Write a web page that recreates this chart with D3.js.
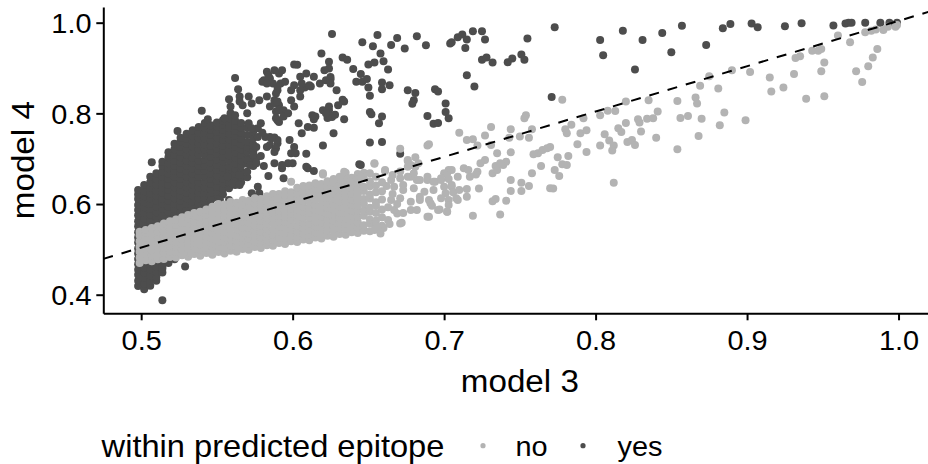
<!DOCTYPE html>
<html>
<head>
<meta charset="utf-8">
<script src="https://cdn.jsdelivr.net/npm/d3@7"></script>
<style>
  body { margin: 0; background: #fff; }
  text { font-family: "Liberation Sans", Arial, Helvetica, sans-serif; }
</style>
</head>
<body>
<div id="chart"></div>
<script>
const width = 928;
const height = 464;

const xDomain = [0.475, 1.025];
const yDomain = [0.359, 1.0346];
const xTicks = [0.5, 0.6, 0.7, 0.8, 0.9, 1.0];
const yTicks = [0.4, 0.6, 0.8, 1.0];
const xTitle = "model 3";
const yTitle = "model 4";
const legendTitle = "within predicted epitope";
const groups = ["no", "yes"];
const groupColors = ["#b3b3b3", "#4d4d4d"];
const refLine = { slope: 1, intercept: 0.004 };

// dense part of the "yes" cloud, read column by column: [model 3, [model 4 values]]
const yesDense = [
  [0.498, [0.419, 0.431, 0.444, 0.455, 0.467, 0.479, 0.491, 0.502, 0.515, 0.526, 0.538, 0.551, 0.562, 0.575, 0.587, 0.598, 0.611, 0.621, 0.631]],
  [0.502, [0.412, 0.425, 0.437, 0.449, 0.460, 0.472, 0.485, 0.497, 0.509, 0.520, 0.533, 0.545, 0.556, 0.568, 0.581, 0.593, 0.604, 0.617, 0.628, 0.642]],
  [0.506, [0.420, 0.431, 0.443, 0.456, 0.468, 0.480, 0.491, 0.504, 0.516, 0.528, 0.541, 0.552, 0.564, 0.577, 0.589, 0.600, 0.613, 0.624, 0.636, 0.648, 0.660]],
  [0.510, [0.431, 0.439, 0.450, 0.462, 0.475, 0.486, 0.498, 0.511, 0.522, 0.534, 0.547, 0.558, 0.571, 0.582, 0.594, 0.607, 0.619, 0.630, 0.643, 0.655, 0.668]],
  [0.514, [0.449, 0.457, 0.469, 0.481, 0.492, 0.505, 0.516, 0.529, 0.540, 0.553, 0.565, 0.576, 0.589, 0.601, 0.612, 0.625, 0.637, 0.648, 0.661, 0.672, 0.684, 0.693]],
  [0.518, [0.470, 0.486, 0.510, 0.534, 0.546, 0.559, 0.570, 0.583, 0.594, 0.607, 0.618, 0.631, 0.642, 0.655, 0.667, 0.679, 0.690, 0.703, 0.714]],
  [0.522, [0.478, 0.498, 0.522, 0.552, 0.565, 0.576, 0.589, 0.600, 0.613, 0.625, 0.637, 0.648, 0.661, 0.673, 0.685, 0.696, 0.709, 0.721, 0.733]],
  [0.526, [0.500, 0.530, 0.560, 0.571, 0.582, 0.595, 0.607, 0.619, 0.630, 0.643, 0.655, 0.667, 0.678, 0.691, 0.703, 0.715, 0.726, 0.738, 0.746]],
  [0.530, [0.520, 0.548, 0.565, 0.577, 0.589, 0.600, 0.613, 0.625, 0.637, 0.648, 0.661, 0.673, 0.685, 0.696, 0.709, 0.721, 0.733, 0.744, 0.755]],
  [0.534, [0.540, 0.558, 0.571, 0.583, 0.595, 0.606, 0.619, 0.631, 0.643, 0.654, 0.667, 0.679, 0.691, 0.702, 0.715, 0.727, 0.739, 0.750, 0.763]],
  [0.538, [0.556, 0.565, 0.577, 0.589, 0.600, 0.613, 0.625, 0.637, 0.648, 0.661, 0.673, 0.685, 0.696, 0.709, 0.721, 0.733, 0.745, 0.757, 0.770]],
  [0.542, [0.569, 0.584, 0.594, 0.605, 0.614, 0.625, 0.637, 0.649, 0.661, 0.673, 0.684, 0.697, 0.709, 0.721, 0.732, 0.745, 0.757, 0.768, 0.779]],
  [0.546, [0.597, 0.609, 0.621, 0.632, 0.645, 0.656, 0.668, 0.681, 0.692, 0.704, 0.717, 0.728, 0.740, 0.752, 0.764, 0.774]],
  [0.550, [0.615, 0.627, 0.638, 0.651, 0.663, 0.675, 0.686, 0.699, 0.711, 0.723, 0.734, 0.747, 0.759, 0.771, 0.780]],
  [0.554, [0.621, 0.633, 0.645, 0.657, 0.669, 0.681, 0.693, 0.705, 0.717, 0.729, 0.741, 0.753, 0.765, 0.776, 0.785]],
  [0.558, [0.635, 0.647, 0.660, 0.671, 0.683, 0.696, 0.707, 0.719, 0.732, 0.743, 0.755, 0.768, 0.779, 0.789]],
  [0.562, [0.642, 0.654, 0.666, 0.678, 0.690, 0.702, 0.714, 0.726, 0.738, 0.750, 0.762, 0.773, 0.784]],
  [0.566, [0.648, 0.660, 0.672, 0.685, 0.696, 0.708, 0.721, 0.732, 0.744, 0.757, 0.768, 0.779]],
  [0.570, [0.659, 0.671, 0.689, 0.701, 0.716, 0.725, 0.737, 0.752, 0.768]],
  [0.574, [0.684, 0.697, 0.718, 0.731, 0.745, 0.760]]
];

// scattered "yes" points
const yesSparse = [
  [0.818, 0.982], [0.831, 0.962], [0.844, 0.977], [0.857, 0.993], [0.850, 0.935], [0.873, 0.951], [0.826, 0.897],
  [0.884, 0.988], [0.889, 0.997], [0.903, 0.998], [0.907, 0.990], [0.925, 0.992], [0.936, 0.999], [0.957, 0.994],
  [0.965, 0.998], [0.967, 1.000], [0.969, 1.000], [0.978, 1.000], [0.988, 1.000], [0.994, 1.000], [0.999, 1.000],
  [0.803, 0.962], [0.805, 0.928],
  [0.626, 0.975], [0.656, 0.973], [0.646, 0.957], [0.653, 0.948], [0.669, 0.966], [0.665, 0.951], [0.682, 0.970],
  [0.674, 0.943], [0.688, 0.950], [0.704, 0.954], [0.705, 0.957], [0.709, 0.968], [0.712, 0.974], [0.715, 0.963],
  [0.714, 0.944], [0.719, 0.981], [0.725, 0.981], [0.727, 0.963], [0.725, 0.918], [0.728, 0.923], [0.732, 0.912],
  [0.742, 0.913], [0.745, 0.921], [0.751, 0.930], [0.753, 0.918], [0.755, 0.965], [0.773, 0.990], [0.771, 0.836],
  [0.715, 0.884], [0.720, 0.859],
  [0.619, 0.932], [0.624, 0.914], [0.624, 0.899], [0.625, 0.880], [0.633, 0.923], [0.636, 0.918], [0.640, 0.898],
  [0.645, 0.887], [0.642, 0.870], [0.646, 0.870], [0.649, 0.876], [0.650, 0.908], [0.654, 0.912], [0.658, 0.932],
  [0.660, 0.915], [0.663, 0.897], [0.659, 0.868], [0.659, 0.853], [0.664, 0.862], [0.650, 0.857], [0.651, 0.839],
  [0.629, 0.851], [0.633, 0.830], [0.634, 0.826], [0.630, 0.818], [0.624, 0.807], [0.626, 0.792], [0.623, 0.790],
  [0.628, 0.797], [0.634, 0.787], [0.615, 0.793], [0.614, 0.787], [0.610, 0.770], [0.614, 0.768], [0.606, 0.756],
  [0.605, 0.837], [0.627, 0.756], [0.620, 0.729], [0.609, 0.711], [0.610, 0.679], [0.614, 0.673], [0.645, 0.686],
  [0.651, 0.736], [0.659, 0.737], [0.651, 0.803], [0.652, 0.798], [0.659, 0.793], [0.657, 0.778], [0.676, 0.851],
  [0.681, 0.845], [0.680, 0.829], [0.679, 0.821], [0.694, 0.853], [0.696, 0.848], [0.701, 0.822], [0.701, 0.803],
  [0.703, 0.789], [0.689, 0.794], [0.693, 0.777], [0.696, 0.779], [0.671, 0.711], [0.644, 0.688],
  [0.605, 0.881], [0.609, 0.888], [0.614, 0.881], [0.612, 0.859], [0.608, 0.857], [0.618, 0.866], [0.622, 0.873],
  [0.625, 0.875],
  [0.562, 0.878], [0.564, 0.853], [0.565, 0.837], [0.558, 0.831], [0.559, 0.815], [0.567, 0.818], [0.571, 0.837],
  [0.573, 0.822], [0.580, 0.870], [0.583, 0.892], [0.585, 0.877], [0.588, 0.895], [0.591, 0.888], [0.593, 0.895],
  [0.592, 0.866], [0.590, 0.851], [0.595, 0.870], [0.601, 0.908], [0.603, 0.907], [0.606, 0.866], [0.601, 0.862],
  [0.599, 0.851], [0.605, 0.851], [0.611, 0.862], [0.621, 0.895], [0.625, 0.866], [0.578, 0.829], [0.583, 0.837],
  [0.588, 0.829], [0.585, 0.815], [0.591, 0.818], [0.594, 0.807], [0.599, 0.829], [0.601, 0.815], [0.590, 0.785],
  [0.594, 0.793], [0.597, 0.800], [0.589, 0.804], [0.604, 0.778], [0.613, 0.796], [0.620, 0.807], [0.624, 0.815],
  [0.622, 0.800], [0.577, 0.767], [0.582, 0.748], [0.585, 0.748], [0.590, 0.734], [0.583, 0.726], [0.599, 0.712],
  [0.601, 0.726], [0.597, 0.690], [0.593, 0.679], [0.588, 0.690], [0.609, 0.682], [0.574, 0.715], [0.576, 0.701],
  [0.570, 0.697], [0.572, 0.686], [0.565, 0.664], [0.560, 0.646], [0.577, 0.638], [0.578, 0.624], [0.552, 0.609],
  [0.558, 0.609], [0.546, 0.609], [0.529, 0.462], [0.514, 0.462], [0.514, 0.388],
  [0.565, 0.826], [0.540, 0.806], [0.559, 0.800], [0.562, 0.796], [0.570, 0.800], [0.555, 0.789], [0.544, 0.787],
  [0.524, 0.761], [0.507, 0.692], [0.571, 0.778], [0.573, 0.767], [0.579, 0.778], [0.577, 0.748], [0.588, 0.747],
  [0.590, 0.741], [0.585, 0.730], [0.589, 0.723], [0.576, 0.726], [0.574, 0.708], [0.576, 0.690],
  [0.581, 0.873], [0.584, 0.884], [0.587, 0.866], [0.590, 0.859], [0.589, 0.844], [0.583, 0.866], [0.588, 0.822],
  [0.590, 0.826], [0.591, 0.807], [0.589, 0.789], [0.591, 0.781], [0.557, 0.596], [0.554, 0.587], [0.565, 0.642],
  [0.557, 0.660], [0.573, 0.624], [0.577, 0.616], [0.586, 0.745], [0.588, 0.715], [0.598, 0.741], [0.602, 0.712],
  [0.593, 0.686], [0.600, 0.690], [0.594, 0.657], [0.579, 0.706], [0.581, 0.684], [0.584, 0.662], [0.580, 0.757]
];

// dense part of the "no" band, read column by column
const noDense = [
  [0.499, [0.470, 0.482, 0.495, 0.506, 0.518, 0.531, 0.539]],
  [0.503, [0.476, 0.489, 0.500, 0.512, 0.525, 0.536, 0.543]],
  [0.507, [0.474, 0.486, 0.498, 0.511, 0.522, 0.534, 0.547]],
  [0.511, [0.478, 0.490, 0.503, 0.514, 0.526, 0.539, 0.551]],
  [0.515, [0.479, 0.492, 0.503, 0.515, 0.528, 0.539, 0.551, 0.557]],
  [0.519, [0.483, 0.495, 0.508, 0.519, 0.531, 0.544, 0.555, 0.562]],
  [0.523, [0.482, 0.494, 0.507, 0.518, 0.530, 0.543, 0.554, 0.566]],
  [0.527, [0.487, 0.500, 0.511, 0.523, 0.536, 0.547, 0.559, 0.571]],
  [0.531, [0.484, 0.496, 0.509, 0.520, 0.532, 0.545, 0.556, 0.568, 0.576]],
  [0.535, [0.490, 0.502, 0.515, 0.526, 0.538, 0.551, 0.562, 0.574, 0.580]],
  [0.539, [0.486, 0.499, 0.510, 0.522, 0.535, 0.546, 0.558, 0.571, 0.583]],
  [0.543, [0.492, 0.504, 0.517, 0.528, 0.540, 0.553, 0.564, 0.576, 0.588]],
  [0.547, [0.488, 0.500, 0.513, 0.524, 0.536, 0.549, 0.560, 0.572, 0.585, 0.594]],
  [0.551, [0.494, 0.507, 0.518, 0.530, 0.543, 0.554, 0.566, 0.579, 0.590, 0.600]],
  [0.555, [0.491, 0.503, 0.516, 0.527, 0.539, 0.552, 0.563, 0.575, 0.588, 0.599]],
  [0.559, [0.497, 0.509, 0.522, 0.533, 0.545, 0.558, 0.569, 0.581, 0.594, 0.605]],
  [0.563, [0.495, 0.508, 0.519, 0.531, 0.544, 0.555, 0.567, 0.580, 0.591, 0.603]],
  [0.567, [0.501, 0.513, 0.526, 0.537, 0.549, 0.562, 0.573, 0.585, 0.598, 0.609]],
  [0.571, [0.499, 0.512, 0.523, 0.535, 0.548, 0.559, 0.571, 0.584, 0.595, 0.607]],
  [0.575, [0.505, 0.517, 0.530, 0.541, 0.553, 0.566, 0.577, 0.589, 0.602, 0.613]],
  [0.579, [0.503, 0.516, 0.527, 0.539, 0.552, 0.563, 0.575, 0.588, 0.599, 0.611]],
  [0.583, [0.509, 0.521, 0.534, 0.545, 0.557, 0.570, 0.581, 0.593, 0.606, 0.617]],
  [0.587, [0.508, 0.521, 0.532, 0.544, 0.557, 0.568, 0.580, 0.593, 0.604, 0.616, 0.622]],
  [0.591, [0.514, 0.526, 0.539, 0.550, 0.562, 0.575, 0.586, 0.598, 0.611, 0.622]],
  [0.595, [0.512, 0.525, 0.536, 0.548, 0.561, 0.572, 0.584, 0.597, 0.608, 0.620, 0.628]],
  [0.599, [0.518, 0.530, 0.543, 0.554, 0.566, 0.579, 0.590, 0.602, 0.615, 0.626]],
  [0.603, [0.516, 0.529, 0.540, 0.552, 0.565, 0.576, 0.588, 0.601, 0.612, 0.624, 0.636]],
  [0.607, [0.522, 0.534, 0.547, 0.558, 0.570, 0.583, 0.594, 0.606, 0.619, 0.630, 0.640]],
  [0.611, [0.520, 0.533, 0.544, 0.556, 0.569, 0.580, 0.592, 0.605, 0.616, 0.628, 0.641]],
  [0.615, [0.526, 0.538, 0.551, 0.562, 0.574, 0.587, 0.598, 0.610, 0.623, 0.634, 0.646]],
  [0.619, [0.524, 0.537, 0.548, 0.560, 0.573, 0.584, 0.596, 0.609, 0.620, 0.632, 0.644]],
  [0.623, [0.530, 0.542, 0.555, 0.566, 0.578, 0.591, 0.602, 0.614, 0.627, 0.638, 0.650]],
  [0.627, [0.528, 0.541, 0.552, 0.564, 0.577, 0.588, 0.600, 0.613, 0.624, 0.636, 0.648, 0.655]],
  [0.631, [0.534, 0.546, 0.559, 0.570, 0.582, 0.595, 0.606, 0.618, 0.631, 0.642, 0.654]],
  [0.635, [0.532, 0.545, 0.556, 0.568, 0.581, 0.592, 0.604, 0.617, 0.628, 0.640, 0.653, 0.660]],
  [0.639, [0.538, 0.550, 0.563, 0.574, 0.586, 0.599, 0.610, 0.622, 0.635, 0.646, 0.658]],
  [0.643, [0.536, 0.549, 0.560, 0.572, 0.585, 0.596, 0.608, 0.621, 0.632, 0.644, 0.657, 0.666]],
  [0.647, [0.541, 0.553, 0.574, 0.586, 0.601, 0.611, 0.629, 0.638, 0.657, 0.669]],
  [0.651, [0.540, 0.557, 0.566, 0.583, 0.592, 0.612, 0.621, 0.639, 0.650]],
  [0.655, [0.549, 0.563, 0.580, 0.597, 0.604, 0.626, 0.641, 0.660]],
  [0.659, [0.552, 0.571, 0.588, 0.610, 0.628, 0.648]]
];

// scattered "no" points
const noSparse = [
  [0.803, 0.796], [0.808, 0.806], [0.813, 0.805], [0.820, 0.826], [0.835, 0.829], [0.841, 0.804], [0.854, 0.827],
  [0.866, 0.835], [0.867, 0.822], [0.869, 0.861], [0.875, 0.882], [0.881, 0.855], [0.885, 0.802], [0.882, 0.774],
  [0.870, 0.788], [0.861, 0.794], [0.856, 0.790], [0.868, 0.750], [0.854, 0.721], [0.840, 0.746], [0.830, 0.760],
  [0.834, 0.788], [0.838, 0.789], [0.828, 0.787], [0.829, 0.780], [0.820, 0.779], [0.815, 0.767], [0.817, 0.759],
  [0.806, 0.754], [0.809, 0.740], [0.812, 0.729], [0.811, 0.718], [0.821, 0.737], [0.824, 0.741], [0.826, 0.730],
  [0.803, 0.729], [0.812, 0.647], [0.890, 0.895], [0.899, 0.785], [0.902, 0.891], [0.915, 0.879], [0.916, 0.848],
  [0.924, 0.857], [0.931, 0.887], [0.932, 0.922], [0.935, 0.926], [0.939, 0.832], [0.943, 0.938], [0.947, 0.938],
  [0.949, 0.942], [0.949, 0.893], [0.951, 0.912], [0.951, 0.838], [0.960, 0.972], [0.968, 0.957], [0.972, 0.893],
  [0.976, 0.869], [0.980, 0.904], [0.983, 0.923], [0.986, 0.942], [0.978, 0.979], [0.982, 0.982], [0.985, 0.985],
  [0.990, 0.984], [0.993, 0.991], [0.998, 0.991], [0.999, 0.995],
  [0.778, 0.830], [0.792, 0.789], [0.790, 0.756], [0.794, 0.763], [0.788, 0.732], [0.794, 0.715], [0.780, 0.765],
  [0.781, 0.756], [0.784, 0.775], [0.754, 0.796], [0.753, 0.789], [0.758, 0.765], [0.756, 0.746], [0.762, 0.712],
  [0.759, 0.710], [0.765, 0.719], [0.770, 0.726], [0.768, 0.723], [0.744, 0.765], [0.743, 0.746], [0.750, 0.749],
  [0.731, 0.770], [0.727, 0.751], [0.731, 0.730], [0.735, 0.712], [0.710, 0.757], [0.715, 0.741], [0.719, 0.743],
  [0.722, 0.729], [0.744, 0.714], [0.739, 0.686], [0.734, 0.684], [0.732, 0.668], [0.735, 0.675], [0.741, 0.693],
  [0.737, 0.690], [0.744, 0.653], [0.751, 0.647], [0.756, 0.640], [0.751, 0.629], [0.744, 0.629], [0.764, 0.684],
  [0.758, 0.668], [0.775, 0.703], [0.782, 0.706], [0.778, 0.688], [0.781, 0.686], [0.773, 0.675], [0.776, 0.662],
  [0.770, 0.635], [0.772, 0.634], [0.727, 0.697], [0.724, 0.690], [0.722, 0.671], [0.723, 0.634], [0.721, 0.665],
  [0.732, 0.606], [0.734, 0.611], [0.741, 0.607], [0.737, 0.577], [0.719, 0.574], [0.715, 0.633], [0.715, 0.616],
  [0.717, 0.660], [0.713, 0.679], [0.716, 0.675], [0.703, 0.655], [0.705, 0.638], [0.706, 0.626], [0.708, 0.613],
  [0.701, 0.624], [0.703, 0.609], [0.689, 0.729], [0.671, 0.722], [0.681, 0.703], [0.676, 0.695], [0.676, 0.682],
  [0.681, 0.682], [0.654, 0.689], [0.651, 0.668], [0.645, 0.660], [0.635, 0.669], [0.620, 0.665], [0.631, 0.660],
  [0.638, 0.649], [0.661, 0.673], [0.665, 0.653], [0.671, 0.657], [0.673, 0.642], [0.678, 0.660], [0.682, 0.653],
  [0.689, 0.653], [0.694, 0.649], [0.698, 0.653], [0.703, 0.675], [0.700, 0.668], [0.684, 0.616], [0.690, 0.609],
  [0.692, 0.596], [0.697, 0.588], [0.702, 0.583], [0.690, 0.572], [0.678, 0.587], [0.672, 0.559], [0.669, 0.579],
  [0.660, 0.547], [0.654, 0.543],
  [0.676, 0.697], [0.678, 0.686], [0.683, 0.690], [0.661, 0.675], [0.666, 0.664], [0.671, 0.672], [0.676, 0.660],
  [0.680, 0.668], [0.684, 0.653], [0.689, 0.660], [0.693, 0.649], [0.698, 0.657], [0.702, 0.668], [0.705, 0.675],
  [0.709, 0.660], [0.667, 0.638], [0.673, 0.631], [0.680, 0.635], [0.687, 0.627], [0.693, 0.631], [0.700, 0.638],
  [0.705, 0.642], [0.710, 0.631], [0.665, 0.609], [0.671, 0.613], [0.678, 0.605], [0.684, 0.609], [0.691, 0.602],
  [0.698, 0.613], [0.703, 0.598], [0.709, 0.609], [0.667, 0.587], [0.673, 0.580], [0.682, 0.587], [0.689, 0.572],
  [0.696, 0.587], [0.702, 0.583], [0.671, 0.557], [0.663, 0.565], [0.656, 0.550], [0.658, 0.535], [0.620, 0.668],
  [0.634, 0.671], [0.599, 0.649], [0.654, 0.690], [0.690, 0.732], [0.566, 0.598], [0.590, 0.613], [0.533, 0.491],
  [0.546, 0.492], [0.663, 0.593], [0.666, 0.622], [0.662, 0.640], [0.669, 0.600], [0.664, 0.556]
];

const margin = { left: 103.3, right: 936.4, top: 7, bottom: 313.3 };
const textStretch = 1.07;

const svg = d3.select("#chart").append("svg")
    .attr("width", width)
    .attr("height", height);

const x = d3.scaleLinear().domain(xDomain).range([margin.left, margin.right]);
const y = d3.scaleLinear().domain(yDomain).range([margin.bottom, margin.top]);
const color = d3.scaleOrdinal().domain(groups).range(groupColors);

svg.append("defs").append("clipPath")
    .attr("id", "panel")
  .append("rect")
    .attr("x", margin.left)
    .attr("y", margin.top)
    .attr("width", margin.right - margin.left)
    .attr("height", margin.bottom - margin.top);

const flatten = cols => cols.flatMap(([mx, ys]) => ys.map(my => [mx, my]));
const points = [
  ...flatten(yesDense).map(d => ({ x: d[0], y: d[1], g: "yes" })),
  ...yesSparse.map(d => ({ x: d[0], y: d[1], g: "yes" })),
  ...flatten(noDense).map(d => ({ x: d[0], y: d[1], g: "no" })),
  ...noSparse.map(d => ({ x: d[0], y: d[1], g: "no" }))
];

const plot = svg.append("g").attr("clip-path", "url(#panel)");

plot.selectAll("circle")
  .data(points)
  .join("circle")
    .attr("cx", d => x(d.x))
    .attr("cy", d => y(d.y))
    .attr("r", 4)
    .attr("fill", d => color(d.g));

// reference line
plot.append("line")
    .attr("x1", x(xDomain[0]))
    .attr("y1", y(refLine.intercept + refLine.slope * xDomain[0]))
    .attr("x2", x(xDomain[1]))
    .attr("y2", y(refLine.intercept + refLine.slope * xDomain[1]))
    .attr("stroke", "#000")
    .attr("stroke-width", 2)
    .attr("stroke-dasharray", "10,9");

// axes
const xAxis = svg.append("g")
    .attr("transform", `translate(0,${margin.bottom})`)
    .call(d3.axisBottom(x).tickValues(xTicks).tickFormat(d3.format(".1f"))
      .tickSize(7).tickSizeOuter(0).tickPadding(10.5));

const yAxis = svg.append("g")
    .attr("transform", `translate(${margin.left},0)`)
    .call(d3.axisLeft(y).tickValues(yTicks).tickFormat(d3.format(".1f"))
      .tickSize(7).tickSizeOuter(0));

[xAxis, yAxis].forEach(a => {
  a.select(".domain").attr("stroke", "#000").attr("stroke-width", 2);
  a.selectAll(".tick line").attr("stroke", "#000").attr("stroke-width", 2);
  a.selectAll(".tick text")
      .attr("fill", "#000")
      .style("font-size", "27px")
      .attr("font-family", null);
});

xAxis.selectAll(".tick text")
    .attr("transform", `scale(${textStretch},1)`);

yAxis.selectAll(".tick text")
    .attr("x", 0)
    .attr("dy", "0.36em")
    .attr("transform", `translate(-11.8,0) scale(${textStretch},1)`);

// axis titles
svg.append("text")
    .attr("transform", `translate(${(margin.left + margin.right) / 2},391.7) scale(${textStretch},1)`)
    .attr("text-anchor", "middle")
    .style("font-size", "31px")
    .text(xTitle);

svg.append("text")
    .attr("transform", `translate(33.5,${(margin.top + margin.bottom) / 2}) rotate(-90) scale(${textStretch},1)`)
    .attr("text-anchor", "middle")
    .style("font-size", "31px")
    .text(yTitle);

// legend
const legend = svg.append("g");

legend.append("text")
    .attr("transform", `translate(101.6,456.5) scale(${textStretch},1)`)
    .style("font-size", "30.5px")
    .text(legendTitle);

const legendKeys = [483, 583];
const legendLabels = [515.5, 617.5];

groups.forEach((g, i) => {
  legend.append("circle")
      .attr("cx", legendKeys[i])
      .attr("cy", 445.7)
      .attr("r", 2.6)
      .attr("fill", color(g));
  legend.append("text")
      .attr("transform", `translate(${legendLabels[i]},455.5) scale(${textStretch},1)`)
      .style("font-size", "27px")
      .text(g);
});
</script>
</body>
</html>
